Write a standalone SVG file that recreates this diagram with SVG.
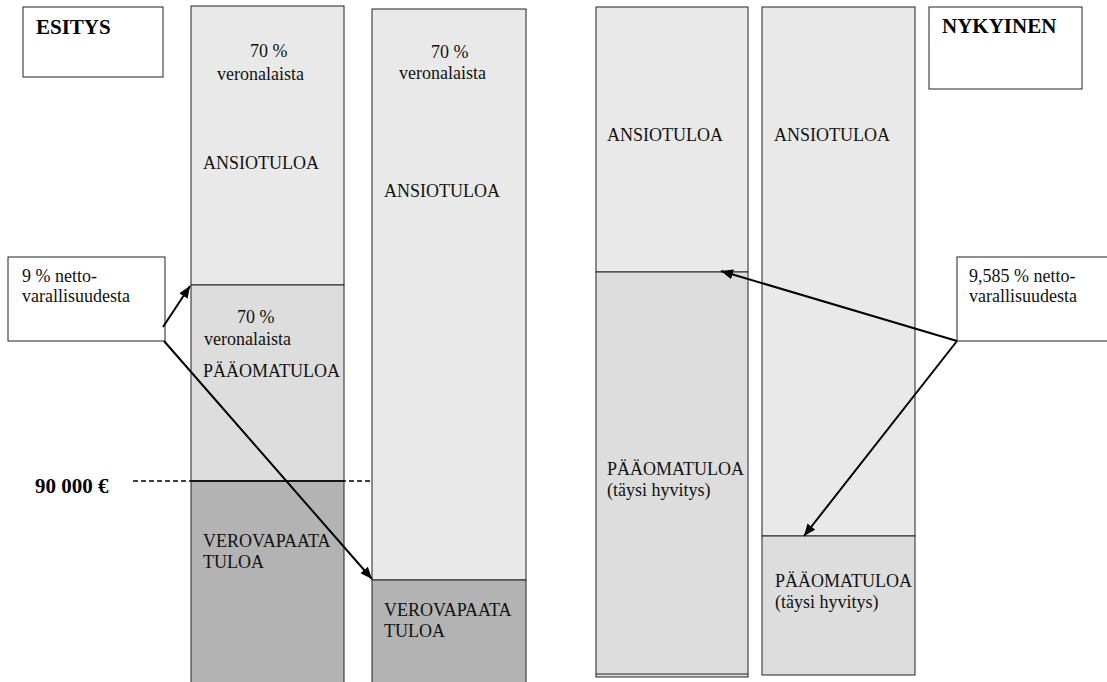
<svg xmlns="http://www.w3.org/2000/svg" width="1107" height="682" viewBox="0 0 1107 682">
<style>
.t{font-family:"Liberation Serif","Times New Roman",serif;font-size:18px;fill:#111}
.b{font-family:"Liberation Serif","Times New Roman",serif;font-size:21px;font-weight:bold;fill:#000}
.box{fill:#fff;stroke:#222;stroke-width:1}
.l{fill:#e9e9e9;stroke:#222;stroke-width:1}
.m{fill:#dddddd;stroke:#222;stroke-width:1}
.d{fill:#b3b3b3;stroke:#222;stroke-width:1}
.c{stroke:#000;stroke-width:2;fill:none;marker-end:url(#ah)}
</style>
<defs>
<marker id="ah" markerUnits="userSpaceOnUse" markerWidth="13" markerHeight="10" refX="12" refY="5" orient="auto">
<path d="M0,0 L12,5 L0,10 z" fill="#000"/>
</marker>
</defs>
<rect width="1107" height="682" fill="#fff"/>
<g id="threshold">
<line x1="133" y1="481" x2="372" y2="481" stroke="#000" stroke-width="1.5" stroke-dasharray="5,3"/>
<text class="b" x="35" y="493">90 000 €</text>
</g>
<g id="esitys">
<rect class="box" x="23" y="7" width="140" height="70"/>
<text class="b" x="36" y="34">ESITYS</text>
</g>
<g id="col1">
<rect class="l" x="191" y="6" width="153" height="279"/>
<rect class="m" x="191" y="285" width="153" height="196"/>
<rect class="d" x="191" y="481" width="153" height="205"/>
<line x1="191" y1="481" x2="344" y2="481" stroke="#000" stroke-width="1.5"/>
<text class="t" x="250" y="57">70 %</text>
<text class="t" x="217" y="80">veronalaista</text>
<text class="t" x="203" y="169">ANSIOTULOA</text>
<text class="t" x="237" y="323">70 %</text>
<text class="t" x="204" y="345">veronalaista</text>
<text class="t" x="203" y="377">PÄÄOMATULOA</text>
<text class="t" x="203" y="547">VEROVAPAATA</text>
<text class="t" x="203" y="568">TULOA</text>
</g>
<g id="col2">
<rect class="l" x="372" y="9" width="154" height="571"/>
<rect class="d" x="372" y="580" width="154" height="106"/>
<text class="t" x="431" y="58">70 %</text>
<text class="t" x="399" y="79">veronalaista</text>
<text class="t" x="384" y="197">ANSIOTULOA</text>
<text class="t" x="384" y="616">VEROVAPAATA</text>
<text class="t" x="384" y="637">TULOA</text>
</g>
<g id="col3">
<rect class="l" x="596" y="7" width="152" height="265"/>
<rect class="m" x="596" y="272" width="152" height="405" stroke-width="1.5"/>
<line x1="596" y1="674" x2="748" y2="674" stroke="#222" stroke-width="1"/>
<text class="t" x="607" y="141">ANSIOTULOA</text>
<text class="t" x="607" y="475">PÄÄOMATULOA</text>
<text class="t" x="607" y="496">(täysi hyvitys)</text>
</g>
<g id="col4">
<rect class="l" x="762" y="7" width="153" height="529"/>
<rect class="m" x="762" y="536" width="153" height="139"/>
<text class="t" x="774" y="141">ANSIOTULOA</text>
<text class="t" x="775" y="587">PÄÄOMATULOA</text>
<text class="t" x="775" y="608">(täysi hyvitys)</text>
</g>
<g id="nykyinen">
<rect class="box" x="929" y="7" width="153" height="82"/>
<text class="b" x="942" y="33">NYKYINEN</text>
</g>
<g id="note-left">
<rect class="box" x="8" y="257" width="157" height="84"/>
<text class="t" x="22" y="282">9 % netto-</text>
<text class="t" x="22" y="302">varallisuudesta</text>
</g>
<g id="note-right">
<rect class="box" x="957" y="257" width="160" height="84"/>
<text class="t" x="969" y="282">9,585 % netto-</text>
<text class="t" x="969" y="302">varallisuudesta</text>
</g>
<g id="connectors">
<line class="c" x1="163" y1="327" x2="190" y2="286"/>
<line class="c" x1="164" y1="341" x2="372" y2="579"/>
<line class="c" x1="957" y1="341" x2="721" y2="271"/>
<line class="c" x1="957" y1="341" x2="804" y2="536"/>
</g>
</svg>
